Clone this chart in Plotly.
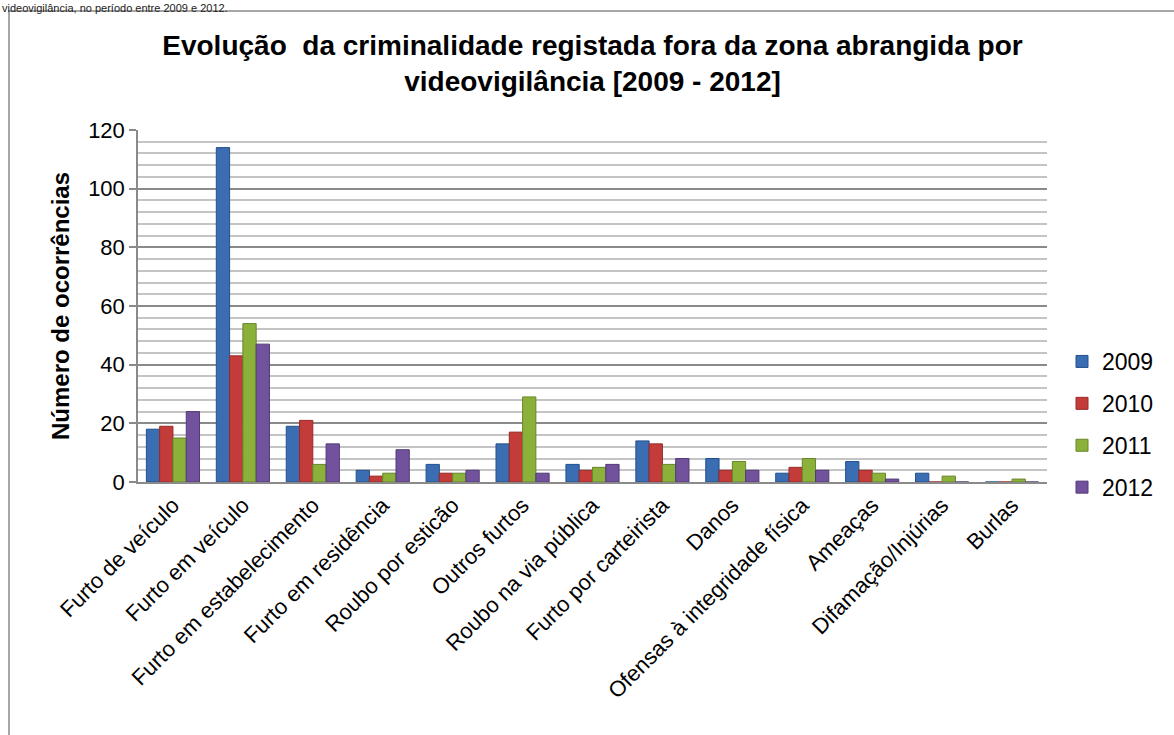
import plotly.graph_objects as go

categorias = ["Furto de veículo", "Furto em veículo", "Furto em estabelecimento",
              "Furto em residência", "Roubo por esticão", "Outros furtos",
              "Roubo na via pública", "Furto por carteirista", "Danos",
              "Ofensas à integridade física", "Ameaças", "Difamação/Injúrias", "Burlas"]

anos = ["2009", "2010", "2011", "2012"]
v2009 = [18, 114, 19, 4, 6, 13, 6, 14, 8, 3, 7, 3, 0]
v2010 = [19, 43, 21, 2, 3, 17, 4, 13, 4, 5, 4, 0, 0]
v2011 = [15, 54, 6, 3, 3, 29, 5, 6, 7, 8, 3, 2, 1]
v2012 = [24, 47, 13, 11, 4, 3, 6, 8, 4, 4, 1, 0, 0]

cores = ["#3a6db1", "#c33c39", "#8bb13b", "#72529d"]
bordas = ["#23508c", "#962a28", "#66862a", "#523a78"]

# geometria da área do gráfico (px)
L, R, T, B = 138, 127, 130, 253
W, H = 1174 - L - R, 735 - T - B

def px_x(p):
    return (p - L) / W

def px_y(p):
    return (735 - B - p) / H

fig = go.Figure()
for ano, vals, cor, borda in zip(anos, [v2009, v2010, v2011, v2012], cores, bordas):
    fig.add_trace(go.Bar(x=categorias, y=vals, name=ano, legendgroup=ano,
                         marker=dict(color=cor, line=dict(color=borda, width=1))))

fig.update_layout(
    width=1174, height=735,
    margin=dict(l=L, r=R, t=T, b=B),
    paper_bgcolor="white", plot_bgcolor="white",
    font=dict(family="Liberation Sans, Arial, sans-serif", color="#000000"),
    barmode="group", bargap=0.24, bargroupgap=0,
    title=dict(text="<b>Evolução  da criminalidade registada fora da zona abrangida por<br>videovigilância [2009 - 2012]</b>",
               x=0.5, xref="paper", xanchor="center", y=1 - 55 / 735, yanchor="middle",
               font=dict(size=28, color="#000000")),
    legend=dict(x=px_x(1062), xanchor="left", y=px_y(340), yanchor="top",
                font=dict(size=23), tracegroupgap=9, itemwidth=30,
                bgcolor="rgba(0,0,0,0)"),
    showlegend=True,
)

fig.update_yaxes(range=[0, 120], dtick=20, showgrid=True, gridcolor="#8a8a8a", gridwidth=1.5,
                 minor=dict(dtick=4, showgrid=True, gridcolor="#c4c4c4", gridwidth=1.5),
                 ticks="outside", ticklen=7, tickcolor="#8a8a8a", tickwidth=1.5,
                 showline=True, linecolor="#8a8a8a", linewidth=1.5,
                 tickfont=dict(size=22), zeroline=False,
                 title=dict(text="<b>Número de ocorrências</b>", font=dict(size=24), standoff=12))

fig.update_xaxes(tickangle=-45, tickfont=dict(size=22), showline=True,
                 linecolor="#8a8a8a", linewidth=1.5, ticks="")

# moldura exterior do gráfico
fig.add_shape(type="rect", xref="paper", yref="paper",
              x0=px_x(9), x1=px_x(1190), y0=px_y(760), y1=px_y(11),
              line=dict(color="#8a8a8a", width=1.5), layer="below")

# linha de texto da página, acima da moldura
fig.add_annotation(text="videovigilância, no período entre 2009 e 2012.", xref="paper", yref="paper",
                   x=px_x(0), xanchor="left", y=px_y(0), yanchor="top",
                   showarrow=False, font=dict(size=11, color="#222222"))

fig.write_html("out.html", config={"displayModeBar": False},
               post_script="document.body.style.margin='0';")
